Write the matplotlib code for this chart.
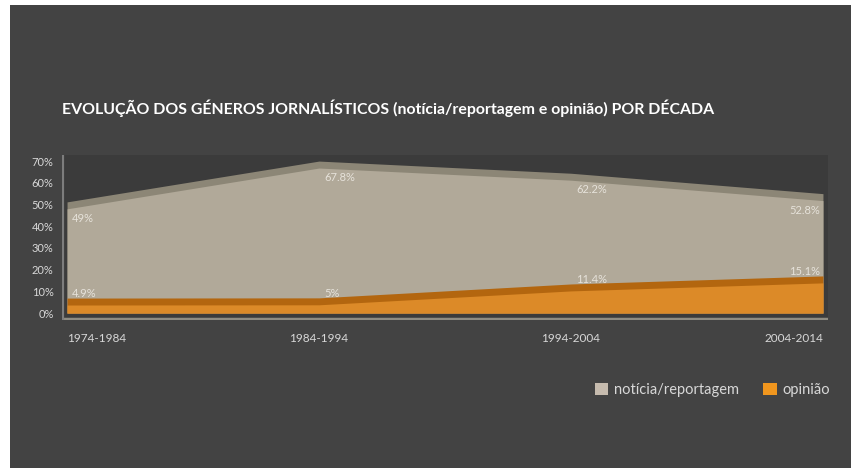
import matplotlib
matplotlib.use("Agg")
import matplotlib.pyplot as plt
from matplotlib.patches import Rectangle, Patch
import numpy as np

# ----------------------------------- DATA ----------------------------------- #
decadas = ["1974-1984", "1984-1994", "1994-2004", "2004-2014"]
noticia = [49, 67.8, 62.2, 52.8]
opiniao = [4.9, 5, 11.4, 15.1]
rot_noticia = ["49%", "67.8%", "62.2%", "52.8%"]
rot_opiniao = ["4.9%", "5%", "11.4%", "15.1%"]
y_ticks = [0, 10, 20, 30, 40, 50, 60, 70]

BG = "#434343"
BEIGE = "#b1a999"
BEIGE_TOP = "#8c8676"
ORANGE = "#dc8a28"
ORANGE_TOP = "#b3660f"
TXT = "#e6e2da"

plt.rcParams["font.family"] = ["Lato", "DejaVu Sans"]

fig = plt.figure(figsize=(8.51, 4.68), dpi=100, facecolor="white")
# dark card (white strip left/top like the screenshot)
fig.patches.append(Rectangle((10 / 851, 0), 1, 1 - 5 / 468, transform=fig.transFigure,
                             facecolor=BG, edgecolor="none", zorder=-10))

ax = fig.add_axes([62 / 851, 1 - 320 / 468, 766 / 851, 165 / 468])
ax.set_zorder(1)
ax.set_facecolor("#3b3b3b")

x = np.arange(len(decadas))
not_arr = np.array(noticia)
op_arr = np.array(opiniao)

# fake 3D: top band + front face
ax.fill_between(x, 0, not_arr + 2.2, color=BEIGE_TOP, lw=0, zorder=1)
ax.fill_between(x, 0, not_arr - 1.0, color=BEIGE, lw=0, zorder=2)
ax.fill_between(x, 0, op_arr + 2.0, color=ORANGE_TOP, lw=0, zorder=3)
ax.fill_between(x, 0, op_arr - 1.2, color=ORANGE, lw=0, zorder=4)

# floor and wall edges
ax.axhline(-2.6, color="#8f8c82", lw=2.5, zorder=5)
ax.axvline(-0.02, color="#7d7d7d", lw=3, zorder=5)

for i in range(len(decadas)):
    dx = 0.02 if i < len(decadas) - 1 else -0.01
    ha = "left" if i < len(decadas) - 1 else "right"
    ax.text(x[i] + dx, not_arr[i] - 5.5, rot_noticia[i], color=TXT, fontsize=8,
            ha=ha, va="center", zorder=6)
    ax.text(x[i] + dx, op_arr[i] + 4.0, rot_opiniao[i], color=TXT, fontsize=8,
            ha=ha, va="center", zorder=6)

ax.set_xlim(-0.02, 3.02)
ax.set_ylim(-3.2, 72.8)
ax.set_yticks(y_ticks)
ax.set_yticklabels([f"{v}%" for v in y_ticks])
ax.tick_params(axis="y", colors="#d8d8d8", labelsize=8, length=0, pad=6)
ax.set_xticks(x)
ax.set_xticklabels(decadas)
ax.tick_params(axis="x", colors="#d8d8d8", labelsize=8.5, length=0, pad=9)
xl = ax.get_xticklabels()
xl[0].set_ha("left")
xl[-1].set_ha("right")
for s in ax.spines.values():
    s.set_visible(False)

fig.text(62 / 851, 1 - 108 / 468, "EVOLUÇÃO DOS GÉNEROS JORNALÍSTICOS (notícia/reportagem e opinião) POR DÉCADA",
         color="white", fontsize=11.4, fontweight="bold", ha="left", va="center")

handles = [Patch(facecolor="#c6bbae", edgecolor="none", label="notícia/reportagem"),
           Patch(facecolor="#f0961e", edgecolor="none", label="opinião")]
fig.legend(handles=handles, loc="center right", bbox_to_anchor=(830 / 851, 1 - 390 / 468),
           ncol=2, frameon=False, fontsize=10.5, labelcolor="#d8d8d8", borderaxespad=0,
           borderpad=0, handlelength=0.9, handleheight=0.9, columnspacing=1.7, handletextpad=0.4)

fig.savefig("out.png", dpi=100, facecolor=fig.get_facecolor())
